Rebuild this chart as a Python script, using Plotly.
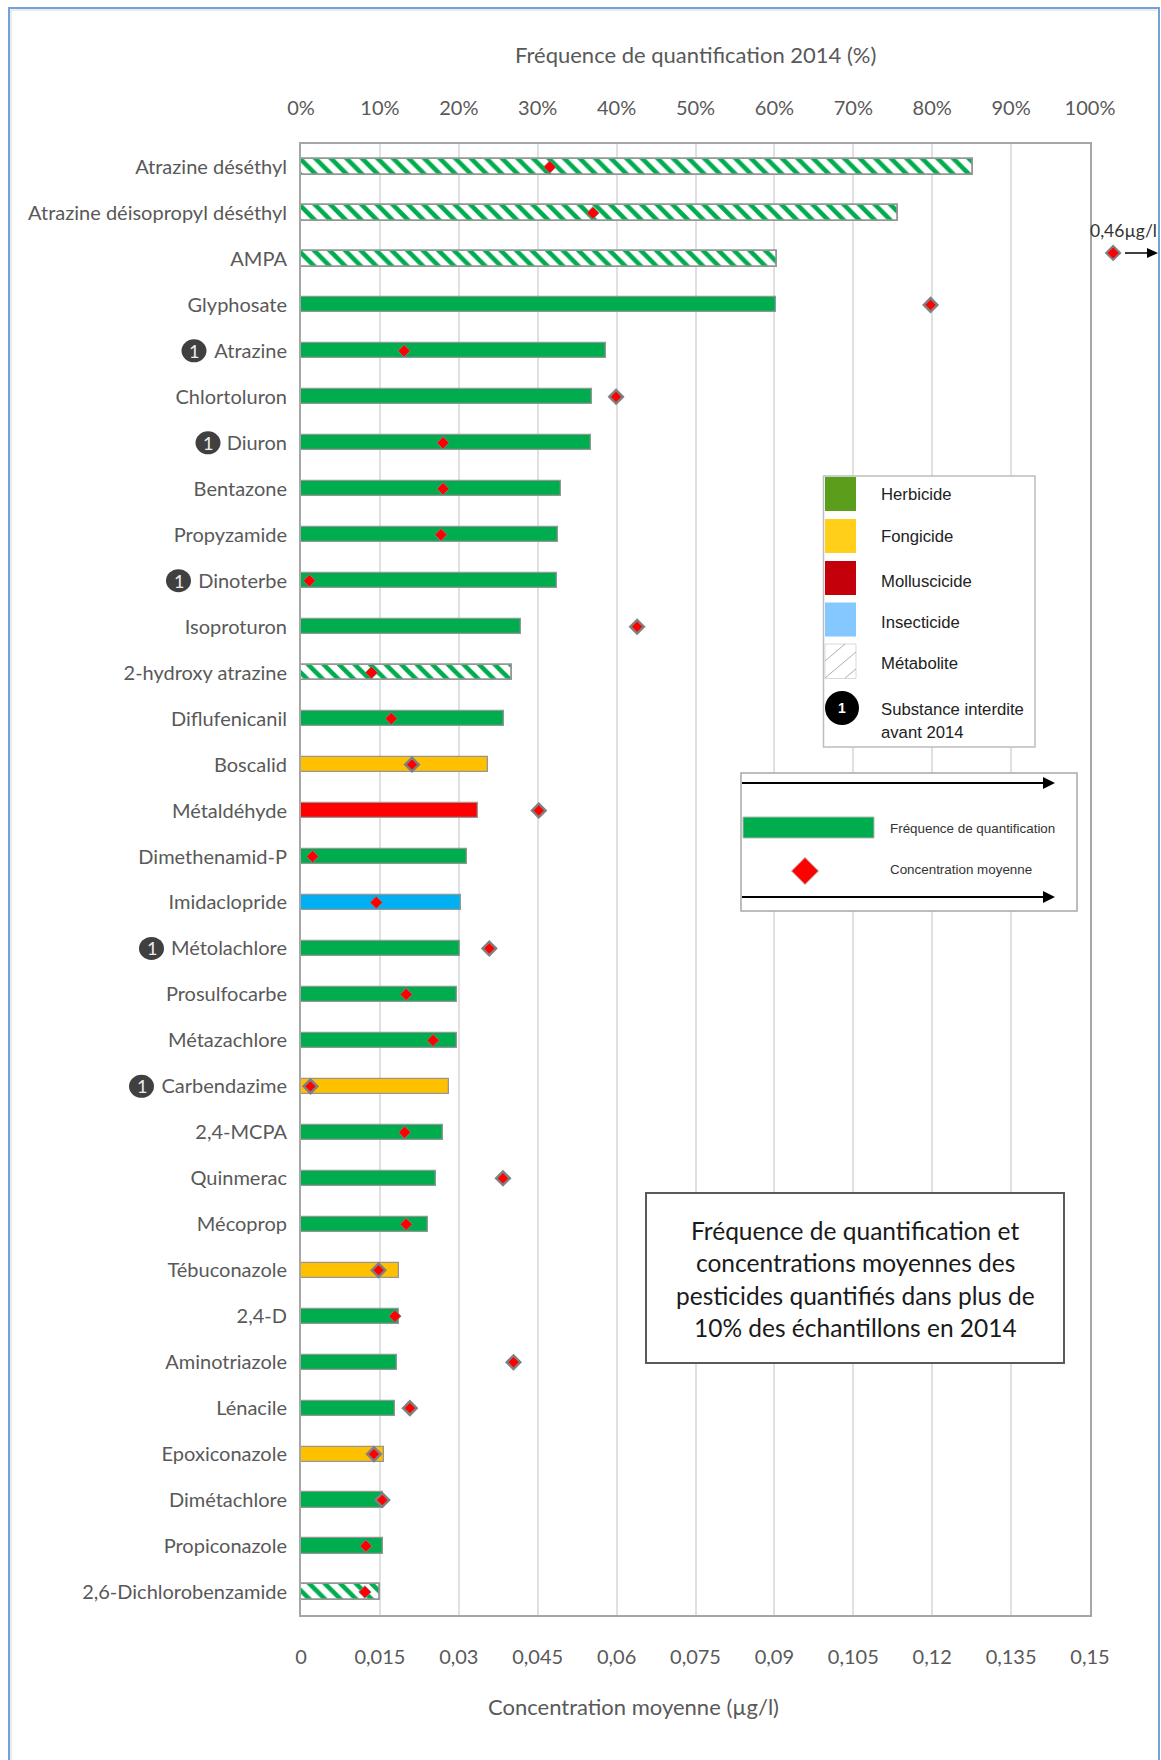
import plotly.graph_objects as go

W, H = 1161, 1760
L, R, T, B = 301, 1090, 144, 1615

substances = ["Atrazine déséthyl", "Atrazine déisopropyl déséthyl", "AMPA", "Glyphosate", "Atrazine",
              "Chlortoluron", "Diuron", "Bentazone", "Propyzamide", "Dinoterbe", "Isoproturon",
              "2-hydroxy atrazine", "Diflufenicanil", "Boscalid", "Métaldéhyde", "Dimethenamid-P",
              "Imidaclopride", "Métolachlore", "Prosulfocarbe", "Métazachlore", "Carbendazime",
              "2,4-MCPA", "Quinmerac", "Mécoprop", "Tébuconazole", "2,4-D", "Aminotriazole",
              "Lénacile", "Epoxiconazole", "Dimétachlore", "Propiconazole", "2,6-Dichlorobenzamide"]
frequence = [85.2, 75.7, 60.3, 60.25, 38.6, 36.9, 36.7, 32.9, 32.6, 32.5, 27.9, 26.7, 25.7, 23.7,
             22.4, 21.05, 20.3, 20.2, 19.75, 19.75, 18.7, 18.0, 17.1, 16.1, 12.45, 12.45, 12.15,
             11.85, 10.55, 10.35, 10.4, 10.05]
concentration = [0.0473, 0.0555, None, 0.1197, 0.0196, 0.0599, 0.0270, 0.0270, 0.0266, 0.0016, 0.0639,
                 0.0134, 0.01715, 0.0211, 0.0452, 0.0022, 0.0143, 0.0358, 0.0200, 0.0251, 0.0018,
                 0.0197, 0.0384, 0.0200, 0.01475, 0.01785, 0.0404, 0.0207, 0.01386, 0.01545, 0.01234,
                 0.01215]
familles = ["M", "M", "M", "H", "H", "H", "H", "H", "H", "H", "H", "M", "H", "F", "Mo", "H", "I", "H",
            "H", "H", "F", "H", "H", "H", "F", "H", "H", "H", "F", "H", "H", "M"]
# AMPA (0,46 µg/l) is off the scale: drawn just past the axis end
hors_echelle_x = 0.1544
hors_echelle_y = 1.87

top_ticks = list(range(0, 101, 10))
top_labels = [f"{v}%" for v in top_ticks]
bottom_ticks = [0, 0.015, 0.03, 0.045, 0.06, 0.075, 0.09, 0.105, 0.12, 0.135, 0.15]
bottom_labels = ["0", "0,015", "0,03", "0,045", "0,06", "0,075", "0,09", "0,105", "0,12", "0,135", "0,15"]

interdites = {"Atrazine": 194, "Diuron": 208, "Dinoterbe": 178.5, "Métolachlore": 151.5, "Carbendazime": 141.5}
contour_fort = {"Chlortoluron", "Isoproturon", "Boscalid", "Métaldéhyde", "Métolachlore", "Carbendazime",
                "Quinmerac", "Tébuconazole", "Aminotriazole", "Lénacile", "Epoxiconazole", "Glyphosate",
                "Dimétachlore"}

FONT = "Lato, Carlito, Calibri, sans-serif"
ARIAL = "Liberation Sans, Arial, sans-serif"
GREY = "#595959"
EDGE = "#969696"
colors = {"H": "#00AD4E", "F": "#FFC000", "Mo": "#FF0000", "I": "#00B0F0"}

def px(x):
    return (x - L) / (R - L)
def py(y):
    return (B - y) / (B - T)

idx = list(range(len(substances)))
row_h = (B - T) / len(substances)
fig = go.Figure()

for fam, col in colors.items():
    sel = [i for i in idx if familles[i] == fam]
    fig.add_trace(go.Bar(x=[frequence[i] for i in sel], y=sel, orientation="h", width=0.33,
                         marker=dict(color=col, line=dict(color=EDGE, width=1.3)),
                         xaxis="x", yaxis="y", showlegend=False))
sel = [i for i in idx if familles[i] == "M"]
fig.add_trace(go.Bar(x=[frequence[i] for i in sel], y=sel, orientation="h", width=0.33,
                     marker=dict(color="white", line=dict(color=EDGE, width=1.8),
                                 pattern=dict(shape="\\", fgcolor="#00AD4E", bgcolor="white",
                                              size=11, solidity=0.42, fillmode="replace")),
                     xaxis="x", yaxis="y", showlegend=False))

sel = [i for i in idx if concentration[i] is not None]
fig.add_trace(go.Scatter(x=[concentration[i] for i in sel], y=sel, mode="markers", xaxis="x2", yaxis="y",
                         cliponaxis=False, showlegend=False,
                         marker=dict(symbol="diamond", color="#FF0000", opacity=1,
                                     size=[10.5 if substances[i] in contour_fort else 9.5 for i in sel],
                                     line=dict(color="#808080",
                                               width=[2.4 if substances[i] in contour_fort else 1.0 for i in sel]))))

shapes = []
ann = []

def rect(x0, y0, x1, y1, fill="rgba(0,0,0,0)", line="rgba(0,0,0,0)", lw=0):
    shapes.append(dict(type="rect", xref="paper", yref="paper", x0=px(x0), x1=px(x1), y0=py(y0), y1=py(y1),
                       fillcolor=fill, line=dict(color=line, width=lw), layer="above"))
def seg(x0, y0, x1, y1, color="black", lw=1):
    shapes.append(dict(type="line", xref="paper", yref="paper", x0=px(x0), x1=px(x1), y0=py(y0), y1=py(y1),
                       line=dict(color=color, width=lw), layer="above"))
def tri(xtip, y, size_x=11, size_y=5.5, color="black"):
    p = f"M {px(xtip)} {py(y)} L {px(xtip - size_x)} {py(y - size_y)} L {px(xtip - size_x)} {py(y + size_y)} Z"
    shapes.append(dict(type="path", xref="paper", yref="paper", path=p, fillcolor=color,
                       line=dict(color=color, width=0), layer="above"))
def text(x, y, s, size, color=GREY, family=FONT, anchor="center"):
    ann.append(dict(xref="paper", yref="paper", x=px(x), y=py(y), text=s, showarrow=False, xanchor=anchor,
                    yanchor="middle", font=dict(family=family, size=size, color=color)))
def circle(cx, cy, rx, ry, color):
    shapes.append(dict(type="circle", xref="paper", yref="paper", x0=px(cx - rx), x1=px(cx + rx),
                       y0=py(cy - ry), y1=py(cy + ry), fillcolor=color, line=dict(color=color, width=0),
                       layer="above"))
def diamond(cx, cy, d, fill, edge, lw):
    p = (f"M {px(cx - d)} {py(cy)} L {px(cx)} {py(cy - d)} L {px(cx + d)} {py(cy)} "
         f"L {px(cx)} {py(cy + d)} Z")
    shapes.append(dict(type="path", xref="paper", yref="paper", path=p, fillcolor=fill,
                       line=dict(color=edge, width=lw), layer="above"))

# page frame
rect(9, 8, 1159, 1790, line="#6FA3DC", lw=2)
seg(11, 10, 11, 1760, "#e4e4e4", 1.5)
seg(11, 10, 1157, 10, "#e4e4e4", 1.5)

# axis titles
text(695, 54, "Fréquence de quantification 2014 (%)", 22)
text(633, 1706, "Concentration moyenne (µg/l)", 22)

# banned-substance badges
for name, cx in interdites.items():
    cy = T + (substances.index(name) + 0.5) * row_h
    circle(cx, cy, 12.5, 11.5, "#404040")
    text(cx, cy, "1", 18, "#eeeeee")

# type legend
rect(823.5, 476, 1035, 747, fill="white", line="#bdbdbd", lw=1.5)
legend_rows = [("Herbicide", "#5B9E1B", 477, 511, 494), ("Fongicide", "#FFCF1A", 519, 553, 536),
               ("Molluscicide", "#C4000A", 561, 595, 581), ("Insecticide", "#85C8FF", 602.5, 636.5, 622.5)]
for lab, col, y0, y1, yt in legend_rows:
    rect(825, y0, 856, y1, fill=col)
    text(879, yt, lab, 16.7, "#222222", ARIAL, "left")
rect(825, 644, 856, 678.5, fill="white", line="#cfcfcf", lw=0.8)
seg(825, 661, 845, 644, "#9a9a9a", 0.8)
seg(825, 678, 856, 652, "#9a9a9a", 0.8)
seg(845, 678, 856, 669, "#9a9a9a", 0.8)
text(879, 664, "Métabolite", 16.7, "#222222", ARIAL, "left")
circle(842, 708, 17, 17, "black")
text(842, 708, "<b>1</b>", 14, "white", ARIAL)
text(879, 709, "Substance interdite", 16.7, "#222222", ARIAL, "left")
text(879, 732, "avant 2014", 16.7, "#222222", ARIAL, "left")

# series key
rect(741, 773, 1077, 911, fill="white", line="#a8a8a8", lw=1.5)
seg(742, 783, 1045, 783, "black", 2)
tri(1055, 783, 12, 6)
seg(742, 897, 1045, 897, "black", 2)
tri(1055, 897, 12, 6)
rect(743, 817, 874, 838, fill="#00AD4E", line="#b5b5b5", lw=1)
diamond(805, 871, 13.5, "#FF0000", "#b5b5b5", 1)
text(888, 828, "Fréquence de quantification", 13.4, "#333333", ARIAL, "left")
text(888, 869, "Concentration moyenne", 13.4, "#333333", ARIAL, "left")

# note box
rect(646, 1193, 1064, 1363, fill="white", line=GREY, lw=2)
for yy, line in zip([1230, 1262.5, 1295, 1327],
                    ["Fréquence de quantification et", "concentrations moyennes des",
                     "pesticides quantifiés dans plus de", "10% des échantillons en 2014"]):
    text(855, yy, line, 24.5, "#1a1a1a")

# off-scale AMPA point and note (plotly hides points beyond an axis range)
diamond(L + hors_echelle_x / 0.15 * (R - L), T + (hors_echelle_y + 0.5) * row_h, 7, "#FF0000", "#808080", 2)
text(1123, 231, "0,46µg/l", 17.5, "#333333")
seg(1125, 253, 1148, 253, "black", 1.5)
tri(1158, 253, 11, 5)

axis_common = dict(showline=True, linecolor="#a6a6a6", linewidth=1.5, ticks="", zeroline=False,
                   tickfont=dict(family=FONT, size=20, color=GREY))
fig.update_layout(
    width=W, height=H, autosize=False,
    margin=dict(l=L, r=W - R, t=T, b=H - B, pad=0),
    paper_bgcolor="white", plot_bgcolor="white", barmode="overlay", bargap=0,
    xaxis=dict(side="top", range=[0, 100], tickvals=top_ticks, ticktext=top_labels, mirror=False,
               showgrid=True, gridcolor="#e0e0e0", gridwidth=1.5, ticklabelstandoff=19, anchor="y", **axis_common),
    xaxis2=dict(side="bottom", overlaying="x", range=[0, 0.15], tickvals=bottom_ticks, ticktext=bottom_labels,
                showgrid=False, ticklabelstandoff=23, anchor="y", **axis_common),
    yaxis=dict(range=[len(substances) - 0.5, -0.5], tickmode="array", tickvals=idx, ticktext=substances,
               showgrid=False, showline=True, linecolor="#a6a6a6", linewidth=2, mirror=True, ticks="",
               zeroline=False, ticklabelstandoff=8, tickfont=dict(family=FONT, size=20, color=GREY)),
    shapes=shapes, annotations=ann, showlegend=False,
)
fig.write_html("out.html", post_script="document.body.style.margin='0';", config={"displayModeBar": False})
